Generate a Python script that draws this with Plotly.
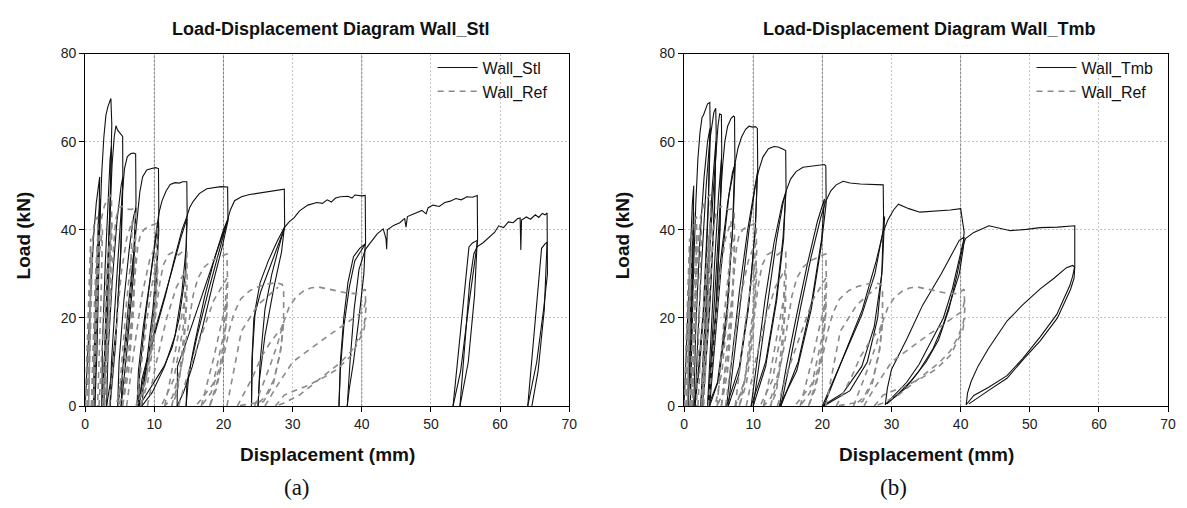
import plotly.graph_objects as go

# ---------------- data (displacement mm, load kN) ----------------
STL_LOOPS = [
    [(0, 0), (0.4, 12), (0.8, 26), (1.2, 38), (1.6, 46), (1.9, 50), (2.1, 52), (2.0, 42), (1.7, 24), (1.4, 8), (1.2, 0)],
    [(1.2, 0), (1.3, 12), (1.6, 28), (1.9, 42), (2.2, 47), (2.0, 30), (1.7, 12), (1.4, 0)],
    [(1.4, 0), (1.5, 12), (1.8, 28), (2.1, 42), (2.4, 53), (2.7, 61), (3.0, 66), (3.3, 68), (3.55, 69), (3.72, 69.8),
     (3.85, 64), (3.7, 52), (3.3, 32), (2.9, 14), (2.4, 0)],
    [(2.4, 0), (2.5, 14), (2.9, 32), (3.3, 48), (3.6, 56), (3.8, 59), (3.6, 42), (3.2, 20), (2.7, 0)],
    [(2.7, 0), (2.8, 12), (3.2, 30), (3.6, 45), (3.9, 55), (4.2, 61), (4.45, 63.6), (4.7, 62.6), (5.0, 62.1), (5.2, 61.8),
     (5.42, 61.2), (5.45, 50), (5.2, 36), (4.5, 18), (3.7, 6), (3.1, 0)],
    [(3.1, 0), (3.3, 12), (3.9, 28), (4.6, 42), (5.2, 50), (5.45, 52), (5.1, 34), (4.4, 14), (3.6, 0)],
    [(3.6, 0), (3.8, 10), (4.4, 25), (5.0, 40), (5.4, 49), (5.7, 54), (6.1, 56.6), (6.6, 57.3), (7.0, 57.4), (7.3, 57.2),
     (7.35, 46), (7.0, 34), (6.2, 18), (5.3, 6), (4.7, 0)],
    [(4.7, 0), (4.9, 10), (5.6, 24), (6.4, 36), (7.0, 43), (7.35, 45), (7.0, 30), (6.0, 12), (5.2, 0)],
    [(5.2, 0), (5.4, 8), (6.2, 22), (7.0, 35), (7.5, 43), (7.9, 48.5), (8.3, 52), (8.9, 53.6), (9.6, 53.9), (10.2, 54.1),
     (10.6, 53.9), (10.65, 44), (10.4, 34), (9.8, 22), (8.9, 10), (8.0, 3), (7.5, 0)],
    [(7.5, 0), (7.7, 8), (8.4, 18), (9.3, 28), (10.1, 37), (10.6, 42), (10.65, 40), (10.3, 28), (9.5, 15), (8.5, 5), (7.7, 0)],
    [(7.7, 0), (7.9, 8), (8.7, 20), (9.6, 32), (10.3, 40), (10.7, 44), (11.1, 46.5), (11.7, 48.8), (12.3, 50.3), (13.0, 50.7),
     (13.6, 50.6), (14.1, 50.9), (14.7, 50.9), (14.75, 43), (14.5, 30), (13.6, 20), (12.6, 13.4), (11.4, 9), (10.2, 6.1),
     (9.0, 3), (7.8, 0)],
    [(7.8, 0), (8.2, 6), (9.5, 14), (11.0, 22), (12.6, 31), (13.8, 38), (14.7, 42.5), (14.6, 36), (14.0, 26), (13.0, 16),
     (11.5, 9), (9.7, 3.1), (8.2, 0)],
    [(8.2, 0), (8.6, 7), (10.0, 16), (11.6, 25), (13.0, 34), (14.0, 40), (14.7, 43), (15.1, 45), (15.6, 46.4), (16.5, 48.2),
     (17.6, 49.3), (18.6, 49.6), (19.6, 49.8), (20.6, 49.7), (20.65, 42), (19.8, 36), (18.5, 28), (17.0, 18), (15.5, 9),
     (14.2, 3), (13.3, 0)],
    [(13.3, 0), (13.35, 9), (14.5, 14), (16.0, 21), (17.5, 28), (19.0, 35), (20.5, 41.5), (20.7, 42.7), (19.8, 37.6),
     (17.9, 26.6), (16.2, 16), (15.0, 7.5), (14.6, 0)],
    [(14.6, 0), (14.7, 5), (15.8, 14), (17.3, 25), (18.8, 34), (20.0, 40), (20.6, 42.3), (21.0, 44.5), (21.6, 46.6),
     (22.6, 47.5), (23.8, 48.0), (25.0, 48.3), (26.5, 48.6), (27.8, 49.0), (28.8, 49.2), (28.85, 40.5), (28.0, 37),
     (26.8, 32), (25.4, 26), (24.4, 20), (24.1, 10), (24.05, 0)],
    [(24.05, 0), (24.2, 12), (24.6, 22), (25.3, 28), (26.5, 33), (27.8, 37.5), (28.8, 40.5), (28.4, 35), (27.3, 27),
     (26.0, 16), (25.2, 6), (25.0, 0)],
    [(25.0, 0), (25.3, 10), (26.0, 22), (27.0, 30), (28.0, 36), (28.8, 40.5), (29.5, 41.8), (30.2, 42.7), (31.0, 44.3),
     (32.2, 45.6), (33.5, 46.2), (34.3, 46.0), (35.0, 46.8), (35.6, 46.3), (36.2, 47.2), (36.9, 47.5), (38.0, 47.6),
     (38.6, 47.2), (39.0, 47.9), (40.0, 47.7), (40.5, 47.8), (40.55, 36.8), (39.8, 35), (39.0, 33), (38.2, 27),
     (37.4, 18), (36.9, 8), (36.7, 0)],
    [(36.7, 0), (36.9, 10), (37.4, 20), (38.0, 28), (38.8, 33.9), (39.7, 35.8), (40.5, 36.8), (40.3, 30), (39.6, 20),
     (38.8, 10), (38.2, 4), (37.9, 0)],
    [(37.9, 0), (38.3, 10), (38.9, 22), (39.6, 31), (40.5, 35.5), (41.2, 37), (42.2, 39), (43.1, 40.2), (43.5, 38),
     (43.6, 35.6), (43.7, 40), (44.6, 41), (45.5, 41.6), (46.2, 42.6), (46.4, 40.6), (46.6, 43), (47.9, 43.8),
     (48.7, 44.4), (49.3, 43.6), (49.6, 45), (50.3, 45.6), (51.2, 45.3), (52.0, 46.2), (52.8, 46.5), (53.6, 47.1),
     (54.4, 46.8), (55.2, 47.5), (56.0, 47.4), (56.7, 47.8), (56.75, 37.6), (55.4, 22), (54.3, 8), (53.2, 0)],
    [(53.2, 0), (54.3, 17), (55.5, 36.1), (56.0, 37), (56.7, 37.6), (56.3, 25), (55.4, 10), (54.2, 0)],
    [(54.2, 0), (54.9, 14), (55.6, 28), (56.2, 34.5), (56.7, 36.2), (57.5, 37), (58.4, 38.3), (59.2, 39.4), (59.8, 40.9),
     (60.5, 40.5), (61.2, 41.8), (61.9, 41.6), (62.5, 42.5), (62.9, 42.7), (63.0, 35.4), (63.1, 42.2), (63.8, 42.9),
     (64.4, 42.4), (65.1, 43.4), (65.6, 42.8), (66.1, 43.7), (66.5, 43.4), (66.8, 43.8), (66.85, 37), (66.85, 30),
     (66.3, 22), (65.3, 10), (64.0, 0)],
    [(64.0, 0), (65.0, 18), (66.0, 35.8), (66.5, 36.8), (66.8, 37.2), (66.4, 22), (65.5, 8), (64.6, 0)],
]

TMB_LOOPS = [
    [(0, 0), (0.3, 12), (0.6, 26), (0.9, 38), (1.2, 46), (1.4, 50), (1.3, 36), (1.0, 16), (0.6, 0)],
    [(0.6, 0), (0.8, 14), (1.1, 32), (1.4, 44), (1.2, 26), (0.9, 0)],
    [(0.9, 0), (1.1, 14), (1.4, 32), (1.7, 46), (2.0, 56), (2.3, 62), (2.6, 65.5), (2.8, 66), (3.1, 67.5), (3.4, 68.6),
     (3.72, 68.9), (3.8, 62), (3.5, 45), (3.0, 25), (2.2, 8), (1.4, 0)],
    [(1.4, 0), (1.7, 18), (2.3, 38), (2.9, 52), (3.4, 60), (3.75, 63), (3.5, 46), (2.8, 22), (1.9, 5), (1.6, 0)],
    [(1.6, 0), (2.0, 16), (2.6, 34), (3.2, 50), (3.7, 60), (4.0, 64), (4.3, 66.6), (4.58, 67.6), (4.65, 62), (4.4, 46),
     (3.8, 26), (3.0, 8), (2.4, 0)],
    [(2.4, 0), (2.9, 16), (3.5, 34), (4.1, 50), (4.6, 60), (4.4, 44), (3.7, 22), (2.9, 4), (2.6, 0)],
    [(2.6, 0), (3.0, 14), (3.6, 32), (4.2, 48), (4.6, 58), (4.9, 63.5), (5.15, 66.3), (5.4, 66.1), (5.45, 58), (5.2, 42),
     (4.6, 22), (3.8, 6), (3.4, 0)],
    [(3.4, 0), (3.8, 14), (4.4, 32), (5.0, 48), (5.4, 56), (5.2, 40), (4.5, 18), (3.7, 2), (3.5, 0)],
    [(3.5, 0), (4.0, 14), (4.7, 32), (5.3, 48), (5.6, 55), (5.9, 60), (6.3, 63.5), (6.8, 65.3), (7.15, 65.8), (7.3, 65.6),
     (7.35, 56), (7.0, 40), (6.2, 20), (5.0, 6), (3.5, 0)],
    [(3.5, 0), (4.2, 14), (5.2, 32), (6.3, 46), (7.0, 53), (7.4, 55), (7.1, 42), (6.2, 22), (4.8, 5), (3.7, 0)],
    [(3.7, 0), (4.4, 14), (5.4, 32), (6.5, 48), (7.3, 55), (7.8, 58.5), (8.3, 61), (8.9, 62.8), (9.4, 63.5), (9.9, 63.3),
     (10.3, 63.4), (10.6, 63), (10.65, 54), (10.3, 40), (9.4, 24), (8.0, 9), (6.15, 0)],
    [(6.15, 0), (7.0, 12), (8.0, 26), (9.2, 40), (10.2, 50), (10.6, 53), (10.3, 40), (9.3, 22), (7.9, 7), (6.4, 0)],
    [(6.4, 0), (7.3, 12), (8.3, 26), (9.4, 40), (10.3, 50), (10.8, 53.5), (11.4, 56.5), (12.2, 58.4), (13.0, 58.9),
     (13.6, 58.8), (14.2, 58.4), (14.7, 58), (14.75, 49), (14.3, 38), (13.3, 24), (11.8, 10), (9.7, 0)],
    [(9.7, 0), (10.5, 10), (11.7, 24), (13.0, 37), (14.2, 46), (14.7, 48.5), (14.4, 38), (13.4, 24), (11.8, 9), (10.0, 0)],
    [(10.0, 0), (10.9, 10), (12.1, 24), (13.4, 38), (14.3, 46), (14.8, 49), (15.4, 51.5), (16.2, 53.2), (17.2, 54.2),
     (18.5, 54.4), (19.5, 54.6), (20.3, 54.8), (20.5, 54.5), (20.55, 46), (19.8, 36), (18.4, 22), (16.3, 8), (13.8, 0)],
    [(13.8, 0), (14.8, 9), (16.2, 20), (17.8, 32), (19.3, 42), (20.3, 47), (19.9, 38), (18.5, 24), (16.5, 10), (14.0, 0)],
    [(14.0, 0), (15.2, 9), (16.8, 22), (18.4, 34), (19.8, 43), (20.5, 46.5), (21.2, 48.8), (22.0, 50.2), (23.0, 51.0),
     (24.0, 50.6), (25.5, 50.4), (27.0, 50.3), (28.8, 50.2), (28.85, 43), (28.6, 30), (27.5, 18), (25.7, 9), (23.0, 3),
     (20.0, 0)],
    [(20.0, 0), (22.9, 10.5), (25.7, 20.7), (27.6, 30), (28.8, 40), (29.0, 43), (28.7, 32), (28.0, 20), (26.5, 10),
     (24.0, 3.5), (20.2, 0)],
    [(20.2, 0), (23.0, 11), (25.8, 22), (27.8, 33), (28.8, 39.5), (29.5, 42.3), (30.3, 44.5), (31.0, 45.8), (32.5, 44.8),
     (34.1, 44.0), (36.5, 44.2), (38.5, 44.5), (40.0, 44.8), (40.3, 42), (40.5, 39.5), (40.4, 37.5), (39.7, 33),
     (38.8, 26.6), (37.5, 20), (36.0, 15.6), (34.0, 9.5), (32.2, 5.4), (30.5, 2.5), (29.1, 0.3)],
    [(29.1, 0.3), (29.4, 4), (30.0, 8.3), (32.3, 15.5), (34.5, 22.9), (37.2, 30), (39.8, 37.6), (40.5, 38.3), (40.4, 36),
     (39.8, 30), (38.8, 25), (37.5, 18.5), (36.0, 13), (34.0, 8), (32.0, 4), (30.0, 1.5), (29.3, 0.5)],
    [(29.3, 0.5), (31.0, 2.8), (33.0, 6), (35.0, 10), (36.8, 15), (38.3, 22), (39.5, 30), (40.3, 36.1), (40.7, 38),
     (41.9, 39.4), (44.1, 40.9), (45.5, 40.4), (47.2, 39.8), (49.5, 40.1), (51.5, 40.5), (54.0, 40.6), (56.5, 40.9),
     (56.5, 31.7), (56.2, 29.5), (55.8, 27.4), (53.9, 20.8), (51.5, 15.7), (49.0, 10.8), (46.7, 6.9), (44.0, 4.2),
     (41.9, 2.4), (40.8, 0.3)],
    [(40.8, 0.3), (41.0, 3), (41.5, 5.5), (42.5, 9), (44.0, 13), (46.7, 19.3), (49.0, 23), (51.5, 26.6), (53.5, 29),
     (55.3, 31.4), (56.2, 31.9), (56.5, 31.5), (56.4, 29), (55.9, 26.5), (54.0, 20), (51.5, 14.8), (49.0, 10.5),
     (46.7, 6.3), (44.0, 3.5), (42.0, 1.5), (41.2, 0.5)],
]

REF_LOOPS = [
    [(0, 0), (0.2, 10), (0.4, 22), (0.6, 32), (0.8, 38), (0.7, 24), (0.5, 10), (0.3, 0)],
    [(0.3, 0), (0.5, 14), (0.7, 28), (0.85, 35), (0.7, 18), (0.5, 0)],
    [(0.5, 0), (0.7, 14), (0.9, 28), (1.1, 38), (1.3, 41.5), (1.6, 42.5), (1.8, 43), (1.85, 36), (1.6, 20), (1.2, 6), (0.9, 0)],
    [(0.9, 0), (1.1, 12), (1.4, 26), (1.7, 36), (1.85, 39), (1.6, 24), (1.2, 0)],
    [(1.0, 0), (1.5, 20), (2.0, 34), (2.5, 40), (2.3, 25), (1.8, 0)],
    [(1.2, 0), (1.5, 14), (1.8, 28), (2.1, 38), (2.4, 43), (2.8, 45.5), (3.2, 46.8), (3.6, 47.8), (3.8, 48), (3.85, 40),
     (3.6, 26), (3.1, 10), (2.5, 0)],
    [(2.5, 0), (2.8, 14), (3.2, 28), (3.6, 38), (3.85, 42), (3.6, 28), (3.1, 10), (2.8, 0)],
    [(2.0, 0), (2.6, 18), (3.2, 32), (3.7, 40), (3.4, 22), (2.6, 0)],
    [(2.8, 0), (3.2, 12), (3.7, 26), (4.1, 36), (4.4, 42), (4.8, 45), (5.4, 45.3), (6.0, 44.7), (6.6, 44.6), (7.0, 44.8),
     (7.25, 44.5), (7.3, 38), (7.0, 25), (6.4, 12), (5.6, 3), (4.8, 0)],
    [(4.8, 0), (5.3, 10), (5.9, 22), (6.6, 33), (7.2, 38), (7.3, 36), (7.0, 22), (6.3, 8), (5.4, 0)],
    [(3.5, 0), (4.3, 15), (5.2, 30), (6.0, 38), (6.8, 42), (6.5, 25), (5.5, 8), (4.5, 0)],
    [(5.4, 0), (5.9, 8), (6.6, 20), (7.2, 30), (7.6, 36), (8.0, 39), (8.6, 40.2), (9.3, 40.8), (9.9, 41.2), (10.4, 41.5),
     (10.5, 35), (10.2, 24), (9.5, 12), (8.5, 4), (7.4, 0)],
    [(7.4, 0), (8.0, 8), (8.8, 18), (9.6, 27), (10.4, 33), (10.5, 30), (10.0, 16), (9.0, 5), (8.0, 0)],
    [(6.0, 0), (7.0, 12), (8.2, 25), (9.3, 33), (10.3, 37), (10.0, 22), (8.8, 6), (7.5, 0)],
    [(8.0, 0), (8.8, 6), (9.6, 14), (10.3, 22), (10.8, 28), (11.3, 32), (12.0, 34.3), (12.8, 35), (13.5, 34.3),
     (14.2, 35.2), (14.7, 35), (14.75, 28), (14.4, 18), (13.7, 8), (12.6, 2), (11.5, 0)],
    [(11.5, 0), (12.3, 6), (13.1, 13), (13.9, 20), (14.6, 26), (14.7, 24), (14.2, 12), (13.3, 3), (12.5, 0)],
    [(9.0, 0), (10.3, 10), (11.8, 20), (13.2, 27), (14.6, 31), (14.2, 18), (12.8, 6), (11.0, 0)],
    [(12.5, 0), (13.4, 5), (14.3, 12), (15.0, 19), (15.6, 25), (16.3, 29), (17.2, 31.5), (18.3, 33), (19.3, 33.8),
     (20.0, 34.2), (20.5, 34.5), (20.6, 27), (20.3, 18), (19.5, 9), (18.2, 3), (16.8, 0)],
    [(16.8, 0), (17.6, 5), (18.6, 11), (19.6, 18), (20.5, 24), (20.55, 22), (20.0, 12), (19.0, 4), (18.0, 0)],
    [(13.5, 0), (15.0, 8), (16.8, 16), (18.6, 24), (20.5, 29), (20.0, 16), (18.5, 5), (16.0, 0)],
    [(18.0, 0), (19.0, 5), (20.0, 11), (20.8, 17), (21.5, 21), (22.5, 24.3), (23.8, 26.2), (25.2, 27.2), (26.5, 27.7),
     (27.6, 28), (28.5, 27.6), (28.7, 26), (28.7, 19), (28.2, 12), (27.2, 5), (25.8, 1), (22.0, 0)],
    [(22.0, 0), (23.0, 3), (24.2, 6.5), (25.5, 11.2), (26.8, 14.5), (28.3, 17.5), (28.7, 19), (28.3, 13), (27.3, 6),
     (26.0, 2), (24.5, 0)],
    [(20.5, 0), (21.5, 8), (22.6, 17), (25.0, 23), (27.9, 27)],
    [(24.5, 0), (25.5, 4), (26.7, 9), (27.8, 14), (28.7, 19), (29.5, 22.5), (30.5, 24.8), (31.5, 26), (32.6, 26.8),
     (33.8, 27), (35.0, 26.6), (36.5, 26), (38.0, 25.6), (39.5, 25.5), (40.5, 26.5), (40.6, 22), (40.4, 19),
     (39.6, 15.6), (38.5, 12.5), (37.0, 10), (35.0, 7.5), (33.0, 5), (31.0, 2.5), (28.5, 0.5), (27.5, 0)],
    [(27.5, 0), (28.8, 2.5), (32.1, 4.6), (34.5, 6.5), (36.4, 8.3), (38.5, 11.5), (40.3, 17.1), (40.6, 20)],
    [(26.0, 0), (27.5, 4), (30.0, 10), (32.5, 13), (35.0, 15.8), (37.5, 18.5), (40.2, 21.5), (40.6, 24)],
]

X_TICKS = [0, 10, 20, 30, 40, 50, 60, 70]
Y_TICKS = [0, 20, 40, 60, 80]
DARK_GRID_X = [10, 20, 40]
TITLES = ["Load-Displacement Diagram Wall_Stl", "Load-Displacement Diagram Wall_Tmb"]
CAPTIONS = ["(a)", "(b)"]
NAMES = ["Wall_Stl", "Wall_Tmb", "Wall_Ref"]


def flatten(loops):
    xs, ys = [], []
    for loop in loops:
        for x, y in loop:
            xs.append(x)
            ys.append(y)
        xs.append(None)
        ys.append(None)
    return xs, ys


SANS = "Liberation Sans, Arial, sans-serif"
BLACK_LINE = dict(color="#111111", width=1.1)
REF_LINE = dict(color="#8a8a8a", width=1.6, dash="6px,5px")

fig = go.Figure()
sx, sy = flatten(STL_LOOPS)
tx, ty = flatten(TMB_LOOPS)
rx, ry = flatten(REF_LOOPS)

fig.add_trace(go.Scatter(x=sx, y=sy, mode="lines", name=NAMES[0], line=BLACK_LINE,
                         xaxis="x", yaxis="y", legend="legend", connectgaps=False))
fig.add_trace(go.Scatter(x=rx, y=ry, mode="lines", name=NAMES[2], line=REF_LINE,
                         xaxis="x", yaxis="y", legend="legend", connectgaps=False))
fig.add_trace(go.Scatter(x=tx, y=ty, mode="lines", name=NAMES[1], line=BLACK_LINE,
                         xaxis="x2", yaxis="y2", legend="legend2", connectgaps=False))
fig.add_trace(go.Scatter(x=rx, y=ry, mode="lines", name=NAMES[2], line=REF_LINE,
                         xaxis="x2", yaxis="y2", legend="legend2", connectgaps=False))

W, H = 1187, 508
YDOM = [1 - 411 / H, 1 - 47 / H]
XDOM1 = [82 / W, 571 / W]
XDOM2 = [687 / W, 1176 / W]


def xaxis(domain, anchor):
    return dict(domain=domain, anchor=anchor, range=[0, 70], tickvals=X_TICKS,
                showline=True, mirror=True, linecolor="black", linewidth=1.2,
                ticks="outside", ticklen=5, tickcolor="black", tickwidth=1,
                showgrid=True, gridcolor="#c4c4c4", gridwidth=1, griddash="2px,2px",
                zeroline=False, tickfont=dict(family=SANS, size=14, color="#222"))


def yaxis(anchor):
    return dict(domain=YDOM, anchor=anchor, range=[0, 80], tickvals=Y_TICKS,
                showline=True, mirror=True, linecolor="black", linewidth=1.2,
                ticks="outside", ticklen=5, tickcolor="black", tickwidth=1,
                showgrid=True, gridcolor="#c4c4c4", gridwidth=1, griddash="2px,2px",
                zeroline=False, tickfont=dict(family=SANS, size=14, color="#222"))


shapes = []
for xr, yr in (("x", "y domain"), ("x2", "y2 domain")):
    for gx in DARK_GRID_X:
        shapes.append(dict(type="line", xref=xr, yref=yr, x0=gx, x1=gx, y0=0, y1=1,
                           line=dict(color="#7a7a7a", width=1, dash="2px,2px"), layer="below"))

annotations = []
for i, (dom, tit, cap) in enumerate(zip((XDOM1, XDOM2), TITLES, CAPTIONS)):
    cx = (dom[0] + dom[1]) / 2
    annotations.append(dict(text="<b>" + tit + "</b>", x=cx + 3 / W, y=1 - 22 / H, xref="paper", yref="paper",
                            showarrow=False, font=dict(family=SANS, size=18, color="#111"),
                            xanchor="center", yanchor="middle"))
    annotations.append(dict(text="<b>Displacement (mm)</b>", x=cx, y=1 - 461 / H, xref="paper", yref="paper",
                            showarrow=False, font=dict(family=SANS, size=19, color="#111"),
                            xanchor="center", yanchor="middle"))
    annotations.append(dict(text="<b>Load (kN)</b>", x=dom[0] - 62 / W, y=1 - 235 / H, xref="paper", yref="paper",
                            showarrow=False, textangle=-90, font=dict(family=SANS, size=19, color="#111"),
                            xanchor="center", yanchor="middle"))
    annotations.append(dict(text=cap, x=(296 if i == 0 else 899) / W, y=1 - 495 / H, xref="paper", yref="paper",
                            showarrow=False, font=dict(family="Liberation Serif, Times New Roman, serif", size=23,
                                                       color="#111"),
                            xanchor="center", yanchor="middle"))

legend_common = dict(xanchor="left", yanchor="top", bgcolor="rgba(0,0,0,0)", borderwidth=0,
                     font=dict(family=SANS, size=16, color="#111"), tracegroupgap=0, itemwidth=40)

fig.update_layout(
    width=W, height=H, margin=dict(l=0, r=0, t=0, b=0),
    paper_bgcolor="white", plot_bgcolor="white", showlegend=True,
    xaxis=xaxis(XDOM1, "y"), yaxis=yaxis("x"),
    xaxis2=xaxis(XDOM2, "y2"), yaxis2=yaxis("x2"),
    legend=dict(x=433 / W, y=1 - 44 / H, **legend_common),
    legend2=dict(x=(433 + 605) / W, y=1 - 44 / H, **legend_common),
    shapes=shapes, annotations=annotations,
)

fig.write_html("out.html", post_script="document.body.style.margin='0';",
               config={"displayModeBar": False})
